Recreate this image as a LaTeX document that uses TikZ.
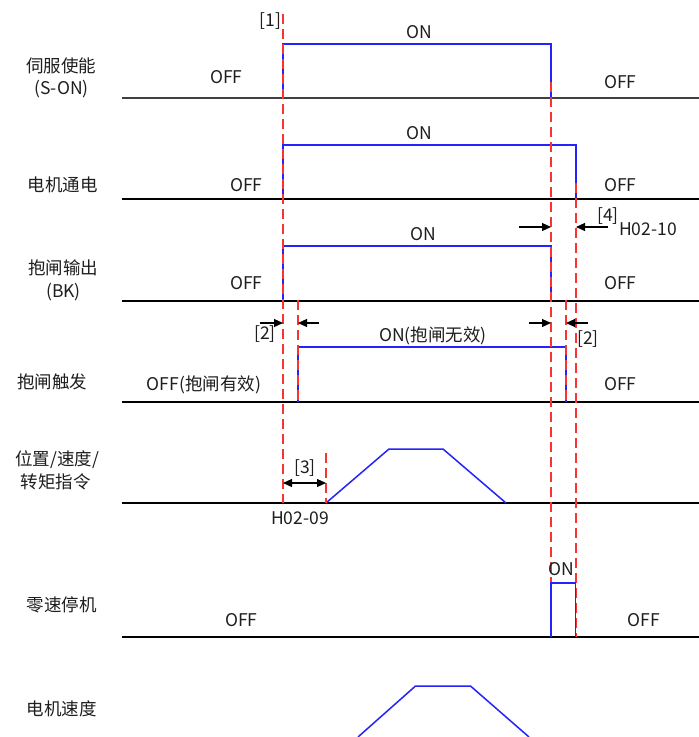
\documentclass[tikz,border=0pt]{standalone}
\usepackage{fontspec}
\setmainfont{Noto Sans CJK SC}
\usetikzlibrary{arrows.meta}
\definecolor{sigblue}{RGB}{35,35,250}
\definecolor{dashred}{RGB}{250,50,50}
\definecolor{txtgray}{RGB}{30,30,30}
\begin{document}
\begin{tikzpicture}[x=1pt,y=-1pt,
  baseA/.style={line width=2pt,black!75},
  baseB/.style={line width=1.5pt,black},
  sig/.style={line width=1.5pt,sigblue},
  reddash/.style={line width=1.6pt,dashred,dash pattern=on 10pt off 5pt},
  dimarrow/.style={line width=1.2pt,black,-{Triangle[length=9pt,width=8pt]}},
  dimboth/.style={line width=1.2pt,black,{Triangle[length=9pt,width=8pt]}-{Triangle[length=9pt,width=8pt]}},
  txt/.style={font=\fontsize{17.5}{20}\selectfont,text=txtgray,inner sep=0pt}]
\useasboundingbox[fill=white] (0,0) rectangle (699,737);

% baselines
\draw[baseA] (122,98) -- (699,98);
\draw[baseB] (122,199) -- (699,199);
\draw[baseB] (122,301) -- (699,301);
\draw[baseB] (122,402) -- (699,402);
\draw[baseB] (122,503) -- (699,503);
\draw[baseB] (122,637) -- (699,637);

% signals
\draw[sig] (283,98) -- (283,44) -- (551,44) -- (551,98);
\draw[sig] (283,199) -- (283,145) -- (576,145) -- (576,199);
\draw[sig] (283,301) -- (283,246) -- (551,246) -- (551,301);
\draw[sig] (298,402) -- (298,347) -- (566,347) -- (566,402);
\draw[sig] (326,503) -- (389,449) -- (443,449) -- (506,503);
\draw[sig] (358,737) -- (415.5,686) -- (470.5,686) -- (529,737);

% red dashed guide lines
\draw[reddash] (283,14) -- (283,503);
\draw[reddash] (298,300) -- (298,402);
\draw[reddash] (326,453) -- (326,503);
\draw[reddash] (551,82) -- (551,583);
\draw[reddash] (576,183) -- (576,637);
\draw[reddash] (566,300) -- (566,402);

% zero speed pulse (on top)
\draw[sig] (551,637) -- (551,583) -- (575.5,583) -- (575.5,637);

% dimension arrows
\coordinate (d4a) at (519,227); \coordinate (d4at) at (551,227);
\coordinate (d4b) at (608,227); \coordinate (d4bt) at (576,227);
\draw[dimarrow] (d4a) -- (d4at);
\draw[dimarrow] (d4b) -- (d4bt);
\coordinate (d2a) at (260,323); \coordinate (d2at) at (283,323);
\coordinate (d2b) at (319,323); \coordinate (d2bt) at (298,323);
\draw[dimarrow] (d2a) -- (d2at);
\draw[dimarrow] (d2b) -- (d2bt);
\coordinate (d2c) at (529,323); \coordinate (d2ct) at (551,323);
\coordinate (d2d) at (588,323); \coordinate (d2dt) at (566,323);
\draw[dimarrow] (d2c) -- (d2ct);
\draw[dimarrow] (d2d) -- (d2dt);
\coordinate (d3a) at (283,483); \coordinate (d3b) at (326,483);
\draw[dimboth] (d3a) -- (d3b);

% annotation labels
\node[txt] (m1) at (270.5,21.5) {[1]};
\node[txt] (m4) at (608,216) {[4]};
\node[txt] (h10) at (648,229) {H02-10};
\node[txt] (m2a) at (265,334) {[2]};
\node[txt] (m2b) at (588,339) {[2]};
\node[txt] (m3) at (305,468) {[3]};
\node[txt] (h09) at (300,518) {H02-09};

% row labels
\node[txt] (l1a) at (61.5,65.5) {伺服使能};
\node[txt] (l1b) at (61.5,89) {(S-ON)};
\node[txt] (l2) at (62.5,185) {电机通电};
\node[txt] (l3a) at (63,268) {抱闸输出};
\node[txt] (l3b) at (63.5,292) {(BK)};
\node[txt] (l4) at (52,382) {抱闸触发};
\node[txt] (l5a) at (57,460) {位置/速度/};
\node[txt] (l5b) at (55.5,482) {转矩指令};
\node[txt] (l6) at (62,605) {零速停机};
\node[txt] (l7) at (62,709) {电机速度};

% state labels
\node[txt] (s1on) at (419,32) {ON};
\node[txt] (s1off) at (226.5,77) {OFF};
\node[txt] (s1offr) at (620.5,82) {OFF};
\node[txt] (s2on) at (419,133) {ON};
\node[txt] (s2off) at (246.5,185) {OFF};
\node[txt] (s2offr) at (620.5,185) {OFF};
\node[txt] (s3on) at (423.5,234) {ON};
\node[txt] (s3off) at (246.5,283) {OFF};
\node[txt] (s3offr) at (620.5,283) {OFF};
\node[txt] (s4on) at (433,336) {ON(抱闸无效)};
\node[txt] (s4off) at (204,385) {OFF(抱闸有效)};
\node[txt] (s4offr) at (620.5,384) {OFF};
\node[txt] (s6on) at (561,569) {ON};
\node[txt] (s6off) at (241.5,620) {OFF};
\node[txt] (s6offr) at (644,620) {OFF};
\end{tikzpicture}
\end{document}
